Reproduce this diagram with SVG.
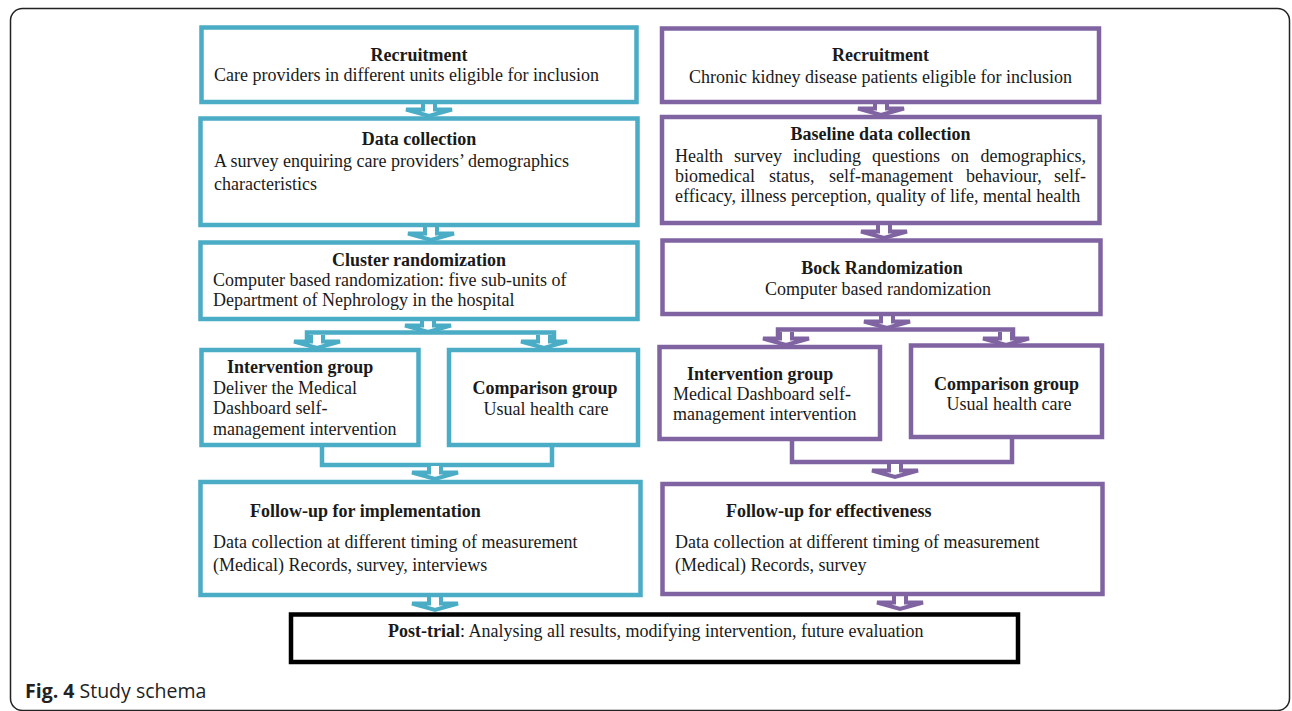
<svg xmlns="http://www.w3.org/2000/svg" width="1292" height="711" viewBox="0 0 1292 711">
<style>
  .t { font-family: "Liberation Serif", "Times New Roman", serif; font-size: 18px; fill: #1a1a1a; }
  .b { font-weight: bold; }
  .mid { text-anchor: middle; }
  .end { text-anchor: end; }
  .teal { fill: #fff; stroke: #4BACC6; stroke-width: 4.5; }
  .purp { fill: #fff; stroke: #8064A2; stroke-width: 4.5; }
  .blk { fill: #fff; stroke: #000; stroke-width: 4.5; }
  .lt { fill: none; stroke: #4BACC6; stroke-width: 4.5; }
  .lp { fill: none; stroke: #8064A2; stroke-width: 4.5; }
  .at { fill: #fff; stroke: #4BACC6; stroke-width: 4; stroke-linejoin: miter; }
  .ap { fill: #fff; stroke: #8064A2; stroke-width: 4; stroke-linejoin: miter; }
  .cap { font-family: "Open Sans", "Liberation Sans", sans-serif; font-size: 19.5px; fill: #222; }
</style>
<defs>
  <path id="arr" d="M-6,-1 V5.5 H-23 L0,12 L23,5.5 H6 V-1"/>
</defs>
<rect x="10.5" y="8.5" width="1279" height="702" rx="12" ry="12" fill="#fff" stroke="#222" stroke-width="1.5"/>

<g id="connectors">
  <use href="#arr" class="at" transform="translate(429,104)"/>
  <use href="#arr" class="at" transform="translate(431,228)"/>
  <use href="#arr" class="at" transform="translate(428,320)"/>
  <path class="lt" d="M307,340 V332.5 H554 V340"/>
  <use href="#arr" class="at" transform="translate(317,336)"/>
  <use href="#arr" class="at" transform="translate(544,336)"/>
  <path class="lt" d="M322,447 V465 H552 V447"/>
  <use href="#arr" class="at" transform="translate(435,467)"/>
  <use href="#arr" class="at" transform="translate(435,598)"/>

  <use href="#arr" class="ap" transform="translate(881,103)"/>
  <use href="#arr" class="ap" transform="translate(884,226)"/>
  <use href="#arr" class="ap" transform="translate(887,316)"/>
  <path class="lp" d="M778,337 V329.5 H1013 V337"/>
  <use href="#arr" class="ap" transform="translate(786,333)"/>
  <use href="#arr" class="ap" transform="translate(1006,333)"/>
  <path class="lp" d="M792,440 V462 H1012 V438"/>
  <use href="#arr" class="ap" transform="translate(895,465)"/>
  <use href="#arr" class="ap" transform="translate(900,597)"/>
</g>

<g id="l-recruit">
  <rect class="teal" x="201.5" y="27.5" width="435" height="74.5"/>
  <text class="t b mid" x="419" y="61">Recruitment</text>
  <text class="t" x="214" y="81">Care providers in different units eligible for inclusion</text>
</g>
<g id="l-data">
  <rect class="teal" x="200.5" y="118.5" width="437" height="106.5"/>
  <text class="t b mid" x="419" y="145">Data collection</text>
  <text class="t" x="214" y="166.5">A survey enquiring care providers’ demographics</text>
  <text class="t" x="214" y="190">characteristics</text>
</g>
<g id="l-cluster">
  <rect class="teal" x="200.5" y="242.5" width="437" height="76.5"/>
  <text class="t b mid" x="419" y="266">Cluster randomization</text>
  <text class="t" x="213" y="285.5">Computer based randomization: five sub-units of</text>
  <text class="t" x="213" y="306">Department of Nephrology in the hospital</text>
</g>
<g id="l-interv">
  <rect class="teal" x="201.5" y="350" width="217" height="95"/>
  <text class="t b" x="227" y="373">Intervention group</text>
  <text class="t" x="213" y="394">Deliver the Medical</text>
  <text class="t" x="213" y="414">Dashboard self-</text>
  <text class="t" x="213" y="434.5">management intervention</text>
</g>
<g id="l-comp">
  <rect class="teal" x="449" y="350" width="189" height="95"/>
  <text class="t b mid" x="545" y="394">Comparison group</text>
  <text class="t mid" x="546" y="415">Usual health care</text>
</g>
<g id="l-follow">
  <rect class="teal" x="200.5" y="482" width="440" height="113"/>
  <text class="t b" x="250" y="517">Follow-up for implementation</text>
  <text class="t" x="213" y="547.5">Data collection at different timing of measurement</text>
  <text class="t" x="213" y="571">(Medical) Records, survey, interviews</text>
</g>

<g id="r-recruit">
  <rect class="purp" x="662" y="28.5" width="437" height="73.5"/>
  <text class="t b mid" x="880.5" y="61">Recruitment</text>
  <text class="t mid" x="880.5" y="82.5">Chronic kidney disease patients eligible for inclusion</text>
</g>
<g id="r-baseline">
  <rect class="purp" x="662" y="117" width="437.5" height="106"/>
  <text class="t b mid" x="880.5" y="140">Baseline data collection</text>
  <text class="t" y="162"><tspan x="675">Health</tspan><tspan x="734">survey</tspan><tspan x="793">including</tspan><tspan x="872">questions</tspan><tspan x="951">on</tspan></text>
  <text class="t end" x="1086" y="162">demographics,</text>
  <text class="t" y="182"><tspan x="675">biomedical</tspan><tspan x="769">status,</tspan><tspan x="829">self-management</tspan><tspan x="966">behaviour,</tspan></text>
  <text class="t end" x="1086" y="182">self-</text>
  <text class="t" x="675" y="202">efficacy, illness perception, quality of life, mental health</text>
</g>
<g id="r-block">
  <rect class="purp" x="662.5" y="240.5" width="438" height="73.5"/>
  <text class="t b mid" x="882" y="274">Bock Randomization</text>
  <text class="t mid" x="878" y="294.5">Computer based randomization</text>
</g>
<g id="r-interv">
  <rect class="purp" x="659.5" y="347" width="220.5" height="92"/>
  <text class="t b" x="687" y="380">Intervention group</text>
  <text class="t" x="673" y="400">Medical Dashboard self-</text>
  <text class="t" x="673" y="420">management intervention</text>
</g>
<g id="r-comp">
  <rect class="purp" x="911" y="345.5" width="191" height="91.5"/>
  <text class="t b mid" x="1006.5" y="389.5">Comparison group</text>
  <text class="t mid" x="1009" y="409.5">Usual health care</text>
</g>
<g id="r-follow">
  <rect class="purp" x="662.5" y="484" width="440" height="110"/>
  <text class="t b" x="726" y="517">Follow-up for effectiveness</text>
  <text class="t" x="675" y="547.5">Data collection at different timing of measurement</text>
  <text class="t" x="675" y="571">(Medical) Records, survey</text>
</g>

<g id="post-trial">
  <rect class="blk" x="291" y="614.5" width="727" height="47.5"/>
  <text class="t" x="388" y="637"><tspan class="b">Post-trial</tspan>: Analysing all results, modifying intervention, future evaluation</text>
</g>

<text class="cap" x="25" y="698"><tspan font-weight="bold">Fig. 4</tspan> Study schema</text>
</svg>
